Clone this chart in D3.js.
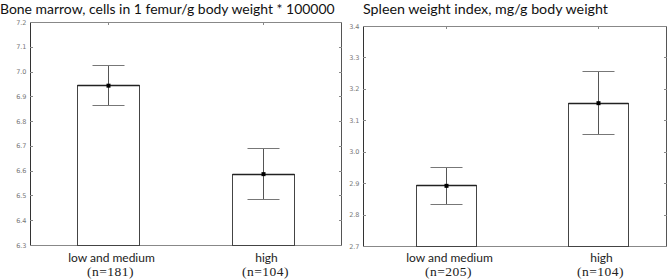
<!DOCTYPE html>
<html><head><meta charset="utf-8">
<script src="https://cdn.jsdelivr.net/npm/d3@7"></script>
<style>body{margin:0;background:#fff}svg{display:block}</style>
</head><body>
<svg id="c" width="669" height="279"></svg>
<script>
const categories = ["low and medium", "high"];
// Panel 1: bone marrow
const title1 = "Bone marrow, cells in 1 femur/g body weight * 100000";
const nLabels1 = ["(n=181)", "(n=104)"];
const means1 = [6.945, 6.588];
const errs1 = [0.081, 0.102];
const ticks1 = [6.3, 6.4, 6.5, 6.6, 6.7, 6.8, 6.9, 7.0, 7.1, 7.2];
// Panel 2: spleen
const title2 = "Spleen weight index, mg/g body weight";
const nLabels2 = ["(n=205)", "(n=104)"];
const means2 = [2.893, 3.156];
const errs2 = [0.059, 0.101];
const ticks2 = [2.7, 2.8, 2.9, 3.0, 3.1, 3.2, 3.3, 3.4];

const svg = d3.select("#c");
const sans = "Lato, Open Sans, Noto Sans, sans-serif";

function panel(o) {
  const g = svg.append("g");
  const x = d3.scalePoint().domain(categories).range([o.x0, o.x1]).padding(0.5).align(o.align);
  const y = d3.scaleLinear().domain([o.ticks[0], o.ticks[o.ticks.length - 1]]).range([o.y1, o.y0]);

  // title
  const t = g.append("text").attr("x", o.tx).attr("y", o.ty)
    .attr("font-family", sans).attr("font-size", 14)
    .attr("fill", "#111").text(o.title);
  const w = t.node().getComputedTextLength();
  t.attr("font-size", 14 * o.tw / w);

  // frame
  g.append("rect").attr("x", o.x0 + 0.5).attr("y", o.y0 + 0.5)
    .attr("width", o.x1 - o.x0).attr("height", o.y1 - o.y0)
    .attr("fill", "none").attr("stroke", "#888").attr("stroke-width", 1);
  g.append("line").attr("x1", o.x0 + 0.5).attr("x2", o.x0 + 0.5).attr("y1", o.y0).attr("y2", o.y1 + 1)
    .attr("stroke", "#333");
  g.append("line").attr("x1", o.x1 + 0.5).attr("x2", o.x1 + 0.5).attr("y1", o.y0).attr("y2", o.y1 + 1)
    .attr("stroke", "#555");

  // y axis
  const ya = d3.axisLeft(y).tickValues(o.ticks).tickFormat(d3.format(".1f")).tickSize(0).tickPadding(4);
  const ag = g.append("g").attr("transform", `translate(${o.x0 + 0.5},0)`).call(ya);
  ag.select(".domain").remove();
  ag.selectAll("text").attr("font-family", "DejaVu Sans, sans-serif").attr("font-size", 6.5).attr("fill", "#777");
  // inward ticks left & right
  o.ticks.forEach(v => {
    const yy = Math.round(y(v)) + 0.5;
    g.append("line").attr("x1", o.x0).attr("x2", o.x0 + 3).attr("y1", yy).attr("y2", yy).attr("stroke", "#888");
    g.append("line").attr("x1", o.x1 - 2).attr("x2", o.x1 + 1).attr("y1", yy).attr("y2", yy).attr("stroke", "#888");
  });
  // top/bottom ticks at categories
  categories.forEach(c => {
    const xx = Math.round(x(c)) + 0.5;
    g.append("line").attr("x1", xx).attr("x2", xx).attr("y1", o.y0).attr("y2", o.y0 + 3).attr("stroke", "#888");
    g.append("line").attr("x1", xx).attr("x2", xx).attr("y1", o.y1 - 2).attr("y2", o.y1 + 1).attr("stroke", "#888");
  });

  const bw = o.bw;
  categories.forEach((c, i) => {
    const cx = Math.round(x(c)) + 0.5;
    const m = o.means[i], e = o.errs[i];
    // bar
    g.append("rect").attr("x", cx - bw / 2).attr("y", Math.round(y(m)) + 0.5)
      .attr("width", bw).attr("height", o.y1 - Math.round(y(m)))
      .attr("fill", "#fff").attr("stroke", "#444").attr("stroke-width", 1);
    g.append("line").attr("x1", cx - bw / 2).attr("x2", cx + bw / 2)
      .attr("y1", Math.round(y(m)) + 0.5).attr("y2", Math.round(y(m)) + 0.5)
      .attr("stroke", "#222").attr("stroke-width", 1.6);
    // error bar
    const yu = Math.round(y(m + e)) + 0.5, yl = Math.round(y(m - e)) + 0.5;
    g.append("line").attr("x1", cx).attr("x2", cx).attr("y1", yu).attr("y2", yl).attr("stroke", "#555");
    g.append("line").attr("x1", cx - 16).attr("x2", cx + 16).attr("y1", yu).attr("y2", yu).attr("stroke", "#777");
    g.append("line").attr("x1", cx - 16).attr("x2", cx + 16).attr("y1", yl).attr("y2", yl).attr("stroke", "#777");
    // mean marker
    g.append("rect").attr("x", cx - 2).attr("y", y(m) - 1.5).attr("width", 4).attr("height", 4).attr("fill", "#000");
    // labels
    const lt = g.append("text").attr("x", cx + 3).attr("y", 262).attr("text-anchor", "middle")
      .attr("font-family", sans).attr("font-size", 12).attr("fill", "#222").text(c);
    g.append("text").attr("x", cx + 2).attr("y", 276).attr("text-anchor", "middle")
      .attr("font-family", "Liberation Serif, Times New Roman, serif").attr("font-size", 13.5)
      .attr("letter-spacing", 0.5).attr("fill", "#222").text(o.nLabels[i]);
  });
}

panel({ x0: 30, x1: 341, y0: 22, y1: 245, align: 0.5, bw: 62, title: title1, tx: 0, ty: 14, tw: 335,
  means: means1, errs: errs1, ticks: ticks1, nLabels: nLabels1 });
panel({ x0: 363, x1: 666, y0: 26, y1: 246, align: 0.55, bw: 60, title: title2, tx: 363, ty: 14, tw: 245,
  means: means2, errs: errs2, ticks: ticks2, nLabels: nLabels2 });
</script>
</body></html>
